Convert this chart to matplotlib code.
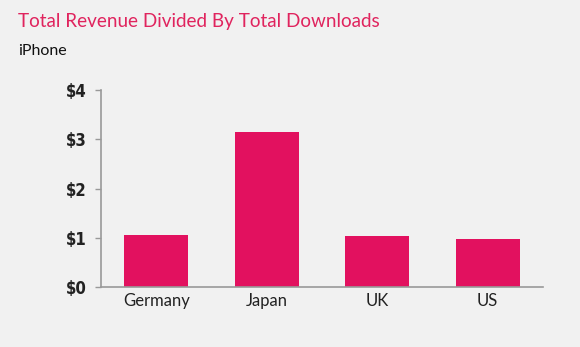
import matplotlib
matplotlib.use("Agg")
import matplotlib.pyplot as plt

categories = ["Germany", "Japan", "UK", "US"]
values = [1.06, 3.15, 1.04, 0.97]
yticks = [0, 1, 2, 3, 4]
ytick_labels = ["$0", "$1", "$2", "$3", "$4"]

bg = "#f1f1f1"
pink = "#e2115f"

fig = plt.figure(figsize=(5.8, 3.47), dpi=100, facecolor=bg)
ax = fig.add_axes([101/580, 1-287/347, 442/580, (287-90)/347])
ax.set_facecolor(bg)

x = range(len(categories))
ax.bar(x, values, width=0.58, color=pink, zorder=2)
ax.set_xlim(-0.5, 3.5)
ax.set_ylim(0, 4)
ax.set_xticks(list(x))
ax.set_xticklabels(categories, fontsize=12, family="Lato", color="#222222")
ax.set_yticks(yticks)
ax.set_yticklabels(ytick_labels, fontsize=12, family="DejaVu Sans", fontstretch="condensed",
                   fontweight="bold", color="#222222")
ax.tick_params(axis="x", length=0, pad=4)
ax.tick_params(axis="y", length=4, width=1, color="#999999", pad=6.5)
for s in ["top", "right"]:
    ax.spines[s].set_visible(False)
ax.spines["left"].set_color("#999999")
ax.spines["bottom"].set_color("#999999")
ax.spines["left"].set_linewidth(1.2)
ax.spines["bottom"].set_linewidth(1.2)

fig.text(18/580, 1-22/347, "Total Revenue Divided By Total Downloads", fontsize=13.6, family="Lato",
         color="#e0245e", va="center", ha="left")
fig.text(18/580, 1-51/347, "iPhone", fontsize=11.5, family="Lato", color="#111111", va="center", ha="left")

fig.savefig("out.png", dpi=100, facecolor=bg)
